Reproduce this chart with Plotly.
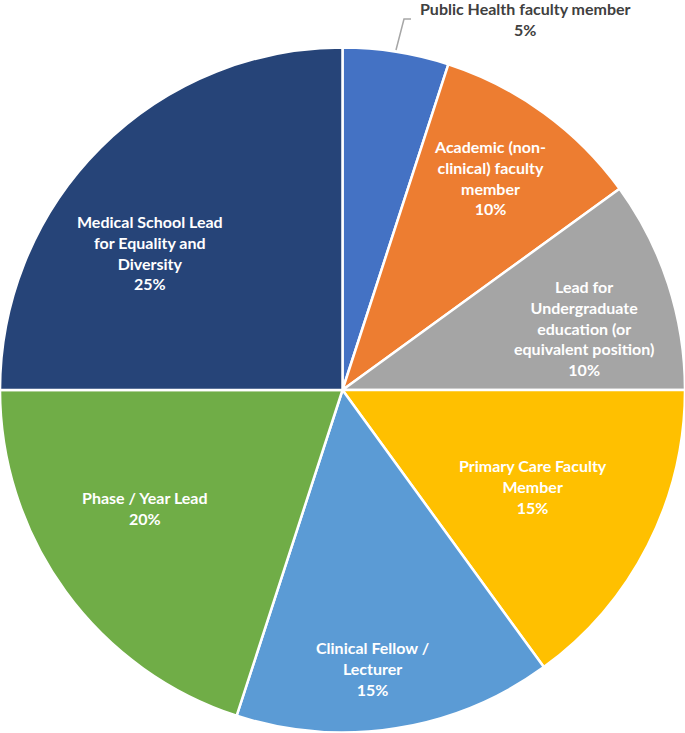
import plotly.graph_objects as go

# data
roles = [
    "Public Health faculty member",
    "Academic (non-<br>clinical) faculty<br>member",
    "Lead for<br>Undergraduate<br>education (or<br>equivalent position)",
    "Primary Care Faculty<br>Member",
    "Clinical Fellow /<br>Lecturer",
    "Phase / Year Lead",
    "Medical School Lead<br>for Equality and<br>Diversity",
]
shares = [5, 10, 10, 15, 15, 20, 25]
colors = ["#4472C4", "#ED7D31", "#A5A5A5", "#FFC000", "#5B9BD5", "#70AD47", "#264478"]

# label centres in pixels (layout only)
label_px = [(525, 19), (490, 178), (584, 328), (533, 486), (372, 668), (145, 508), (150, 253)]
W, H = 685, 733

fig = go.Figure(go.Pie(
    labels=[r.replace("<br>", " ") for r in roles],
    values=shares,
    sort=False,
    direction="clockwise",
    rotation=0,
    marker=dict(colors=colors, line=dict(color="white", width=2.5)),
    textinfo="none",
    hoverinfo="label+percent",
    showlegend=False,
    domain=dict(x=[0, 1], y=[0, (H - 47) / H]),
))

for i, (role, val) in enumerate(zip(roles, shares)):
    px, py = label_px[i]
    fig.add_annotation(
        x=px / W, y=1 - py / H, xref="paper", yref="paper",
        xanchor="center", yanchor="middle",
        text=f"<b>{role}<br>{val}%</b>",
        showarrow=False,
        font=dict(family="Lato", size=16, color="#404040" if i == 0 else "white"),
        align="center",
    )

# leader line for the small slice
fig.add_shape(
    type="path", xref="paper", yref="paper",
    path=f"M {396/W} {1-50/H} L {404/W} {1-19/H} L {411/W} {1-19/H}",
    line=dict(color="#A6A6A6", width=1.5),
)

fig.update_layout(
    width=W, height=H,
    margin=dict(l=0, r=0, t=0, b=0),
    paper_bgcolor="white",
)

fig.write_html(
    "out.html",
    config={"displayModeBar": False},
    post_script="document.body.style.margin='0';document.body.style.overflow='hidden';",
)
